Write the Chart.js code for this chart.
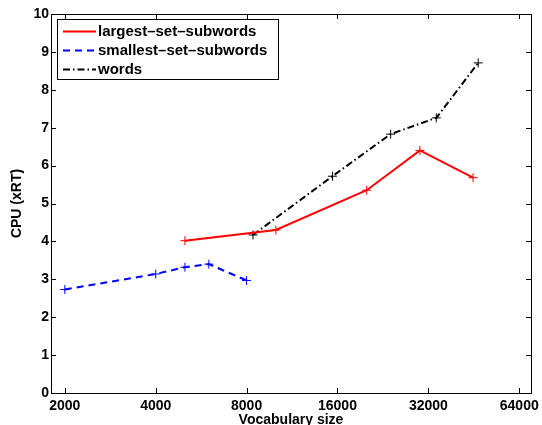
<!DOCTYPE html>
<html>
<head>
<meta charset="utf-8">
<script src="https://cdn.jsdelivr.net/npm/chart.js@4.4.1/dist/chart.umd.min.js"></script>
<style>
  html, body { margin: 0; padding: 0; background: #fff; }
  #wrap { width: 542px; height: 425px; position: relative; }
</style>
</head>
<body>
<div id="wrap"><canvas id="cpu-chart"></canvas></div>
<script>
// CPU (xRT) against vocabulary size, log2 x axis

const xTickValues = [2000, 4000, 8000, 16000, 32000, 64000];
const yTickValues = [0, 1, 2, 3, 4, 5, 6, 7, 8, 9, 10];

const seriesNames = ["largest–set–subwords", "smallest–set–subwords", "words"];

const largestX = [5000, 10000, 20000, 30000, 45000];
const largestY = [4.02, 4.30, 5.35, 6.40, 5.68];

const smallestX = [2000, 4000, 5000, 6000, 8000];
const smallestY = [2.73, 3.14, 3.32, 3.40, 2.97];

const wordsX = [8400, 15400, 24000, 34000, 46800];
const wordsY = [4.17, 5.72, 6.83, 7.26, 8.71];

const toPoints = (xs, ys) => xs.map((x, i) => ({ x: x, y: ys[i] }));
const boldFont = (size) => ({ family: "'Liberation Sans', Arial, sans-serif", size: size, weight: "bold" });

// Box, inward ticks on all four sides and the legend, drawn like the MATLAB figure
const matlabFrame = {
  id: "matlabFrame",
  afterDatasetsDraw(chart) {
    let ctx = chart.ctx,
      area = chart.chartArea,
      xs = chart.scales.x,
      ys = chart.scales.y,
      len = 5;

    ctx.save();
    ctx.strokeStyle = "#000";
    ctx.lineWidth = 1;
    ctx.setLineDash([]);
    ctx.beginPath();
    xTickValues.forEach((v) => {
      let px = Math.round(xs.getPixelForValue(v)) + 0.5;
      ctx.moveTo(px, area.bottom);
      ctx.lineTo(px, area.bottom - len);
      ctx.moveTo(px, area.top);
      ctx.lineTo(px, area.top + len);
    });
    yTickValues.forEach((v) => {
      let py = Math.round(ys.getPixelForValue(v)) + 0.5;
      ctx.moveTo(area.left, py);
      ctx.lineTo(area.left + len, py);
      ctx.moveTo(area.right, py);
      ctx.lineTo(area.right - len, py);
    });
    ctx.stroke();
    ctx.strokeRect(Math.round(area.left) + 0.5, Math.round(area.top) + 0.5,
      Math.round(area.right - area.left), Math.round(area.bottom - area.top));

    // legend
    let lx = 57, ly = 19, lw = 221, lh = 60, rowH = 19;
    ctx.fillStyle = "#fff";
    ctx.fillRect(lx, ly, lw, lh);
    ctx.strokeRect(lx + 0.5, ly + 0.5, lw, lh);
    ctx.font = "bold 15px 'Liberation Sans', Arial, sans-serif";
    ctx.textBaseline = "middle";
    chart.data.datasets.forEach((ds, i) => {
      let y = ly + 12.5 + i * rowH;
      ctx.strokeStyle = ds.borderColor;
      ctx.lineWidth = ds.borderWidth;
      ctx.setLineDash(ds.borderDash || []);
      ctx.beginPath();
      ctx.moveTo(63, y);
      ctx.lineTo(96, y);
      ctx.stroke();
      ctx.setLineDash([]);
      ctx.fillStyle = "#000";
      ctx.fillText(ds.label, 98, y + 0.5);
    });
    ctx.restore();
  },
};

new Chart(document.getElementById("cpu-chart"), {
  type: "scatter",
  data: {
    datasets: [
      {
        label: seriesNames[0],
        data: toPoints(largestX, largestY),
        showLine: true,
        borderColor: "#ff0000",
        backgroundColor: "#ff0000",
        borderWidth: 2,
        pointStyle: "cross",
        pointRadius: 4.5,
        pointBorderWidth: 1,
      },
      {
        label: seriesNames[1],
        data: toPoints(smallestX, smallestY),
        showLine: true,
        borderColor: "#0000ff",
        backgroundColor: "#0000ff",
        borderWidth: 2,
        borderDash: [7, 5],
        pointStyle: "cross",
        pointRadius: 4.5,
        pointBorderWidth: 1,
      },
      {
        label: seriesNames[2],
        data: toPoints(wordsX, wordsY),
        showLine: true,
        borderColor: "#000000",
        backgroundColor: "#000000",
        borderWidth: 2,
        borderDash: [7, 3, 1.5, 3],
        pointStyle: "cross",
        pointRadius: 4.5,
        pointBorderWidth: 1,
      },
    ],
  },
  options: {
    responsive: true,
    maintainAspectRatio: false,
    animation: false,
    layout: { padding: { top: 14, right: 11, left: 0, bottom: 0 } },
    plugins: {
      legend: { display: false },
      tooltip: { enabled: false },
    },
    scales: {
      x: {
        type: "logarithmic",
        min: 1800,
        max: 70000,
        afterBuildTicks: (scale) => {
          scale.ticks = xTickValues.map((v) => ({ value: v }));
        },
        afterFit: (scale) => {
          scale.height = 32;
        },
        ticks: {
          autoSkip: false,
          maxRotation: 0,
          padding: -3,
          color: "#000",
          font: boldFont(14),
          callback: (v) => String(v),
        },
        grid: { display: false },
        border: { display: false },
        title: {
          display: true,
          text: "Vocabulary size",
          color: "#000",
          font: boldFont(14),
          padding: { top: 0, bottom: -4 },
        },
      },
      y: {
        type: "linear",
        min: 0,
        max: 10,
        afterBuildTicks: (scale) => {
          scale.ticks = yTickValues.map((v) => ({ value: v }));
        },
        afterFit: (scale) => {
          scale.width = 51;
        },
        ticks: {
          padding: -6,
          color: "#000",
          font: boldFont(14),
        },
        grid: { display: false },
        border: { display: false },
        title: {
          display: true,
          text: "CPU (xRT)",
          color: "#000",
          font: boldFont(14),
          padding: { top: 9, bottom: 0 },
        },
      },
    },
  },
  plugins: [matlabFrame],
});
</script>
</body>
</html>
